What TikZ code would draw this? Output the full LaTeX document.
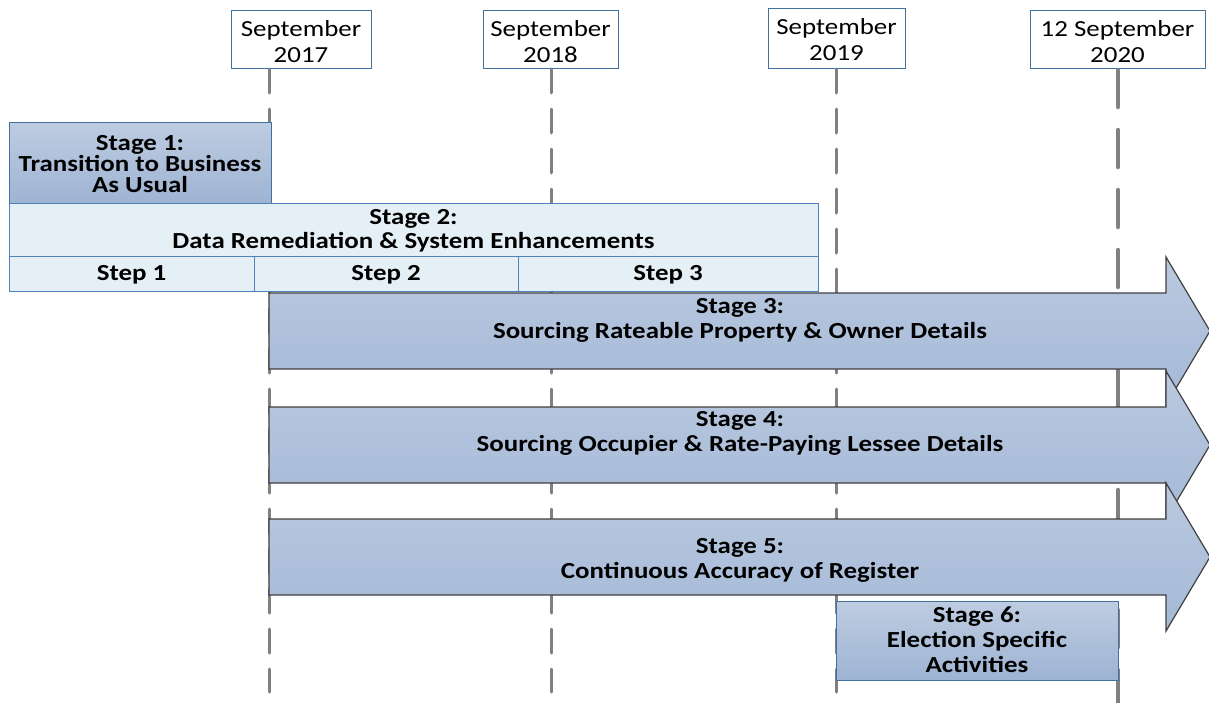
\documentclass[tikz,border=0pt]{standalone}
\usepackage{fontspec}
\setmainfont{Carlito}[FakeStretch=1.17]
\definecolor{datebd}{RGB}{65,113,156}
\definecolor{vline}{RGB}{128,128,128}
\definecolor{arrbd}{RGB}{64,64,64}
\definecolor{arrtop}{RGB}{186,201,223}
\definecolor{arrbot}{RGB}{164,185,215}
\definecolor{boxtop}{RGB}{190,204,225}
\definecolor{boxbot}{RGB}{158,180,211}
\definecolor{lightfill}{RGB}{228,240,246}
\definecolor{lightbd}{RGB}{79,129,189}
\begin{document}
\begin{tikzpicture}[x=1pt,y=-1pt,
  datebox/.style={draw=datebd,line width=0.8pt,fill=white,inner sep=0pt},
  datetext/.style={inner sep=0pt,align=center,font=\fontsize{23}{26}\selectfont},
  darkbox/.style={draw=datebd,line width=0.8pt,top color=boxtop,bottom color=boxbot,inner sep=0pt},
  lightbox/.style={draw=lightbd,line width=0.8pt,fill=lightfill,inner sep=0pt},
  boldtext/.style={inner sep=0pt,align=center,font=\fontsize{23}{24}\selectfont\bfseries},
  tighttext/.style={inner sep=0pt,align=center,font=\fontsize{23}{21}\selectfont\bfseries},
  bigarrow/.style={draw=arrbd,line width=1.2pt,top color=arrtop,bottom color=arrbot},
  arrtext/.style={inner sep=0pt,align=center,font=\fontsize{23}{25}\selectfont\bfseries},
  yearline/.style={draw=vline,line width=3pt,line cap=round,dash pattern=on 24pt off 16pt},
  endline/.style={draw=vline,line width=4.5pt,line cap=round,dash pattern=on 37pt off 23pt}]
\useasboundingbox (0,0) rectangle (1209,702);

% date boxes
\node[datebox,minimum width=140pt,minimum height=58pt] (d17) at (301,39) {};
\node[datebox,minimum width=135pt,minimum height=58pt] (d18) at (550.5,39) {};
\node[datebox,minimum width=137pt,minimum height=60pt] (d19) at (836.5,38) {};
\node[datebox,minimum width=175pt,minimum height=58pt] (d20) at (1117.5,39) {};
\node[datetext] (t17) at (301,42) {September\\2017};
\node[datetext] (t18) at (550.5,42) {September\\2018};
\node[datetext] (t19) at (836.5,40) {September\\2019};
\node[datetext] (t20) at (1117.5,42) {12 September\\2020};

% time lines
\coordinate (l17a) at (269,69);  \coordinate (l17b) at (269,692);
\coordinate (l18a) at (551,69);  \coordinate (l18b) at (551,692);
\coordinate (l19a) at (836,69);  \coordinate (l19b) at (836,692);
\coordinate (l20a) at (1118,70); \coordinate (l20b) at (1118,705);
\draw[yearline] (l17a) -- (l17b);
\draw[yearline] (l18a) -- (l18b);
\draw[yearline] (l19a) -- (l19b);
\draw[endline] (l20a) -- (l20b);

% stage 1 and 2
\node[darkbox,minimum width=262pt,minimum height=81pt] (s1) at (140,162.5) {};
\node[tighttext] (s1t) at (140,164) {Stage 1:\\Transition to Business\\As Usual};
\node[lightbox,minimum width=809pt,minimum height=53pt] (s2) at (413.5,229.5) {};
\node[boldtext] (s2t) at (413.5,230.5) {Stage 2:\\Data Remediation \& System Enhancements};
\node[lightbox,minimum width=245pt,minimum height=35pt] (st1) at (131.5,273.5) {};
\node[lightbox,minimum width=264pt,minimum height=35pt] (st2) at (386,273.5) {};
\node[lightbox,minimum width=300pt,minimum height=35pt] (st3) at (668,273.5) {};
\node[boldtext] (st1t) at (131.5,275) {Step 1};
\node[boldtext] (st2t) at (386,275) {Step 2};
\node[boldtext] (st3t) at (668,275) {Step 3};

% stages 3-5 arrows
\path[bigarrow] (269,293) -- (1166,293) -- (1166,257) -- (1210,331) -- (1166,405) -- (1166,369) -- (269,369) -- cycle;
\node[arrtext] (s3) at (740,320.5) {Stage 3:\\Sourcing Rateable Property \& Owner Details};
\path[bigarrow] (269,407) -- (1166,407) -- (1166,371) -- (1210,445) -- (1166,519) -- (1166,483) -- (269,483) -- cycle;
\node[arrtext] (s4) at (740,433.5) {Stage 4:\\Sourcing Occupier \& Rate-Paying Lessee Details};
\path[bigarrow] (269,519) -- (1166,519) -- (1166,483) -- (1210,557) -- (1166,631) -- (1166,595) -- (269,595) -- cycle;
\node[arrtext] (s5) at (740,560) {Stage 5:\\Continuous Accuracy of Register};

% stage 6
\node[darkbox,minimum width=282pt,minimum height=79pt] (s6) at (977,640.5) {};
\node[arrtext] (s6t) at (977,640) {Stage 6:\\Election Specific\\Activities};
\end{tikzpicture}
\end{document}
